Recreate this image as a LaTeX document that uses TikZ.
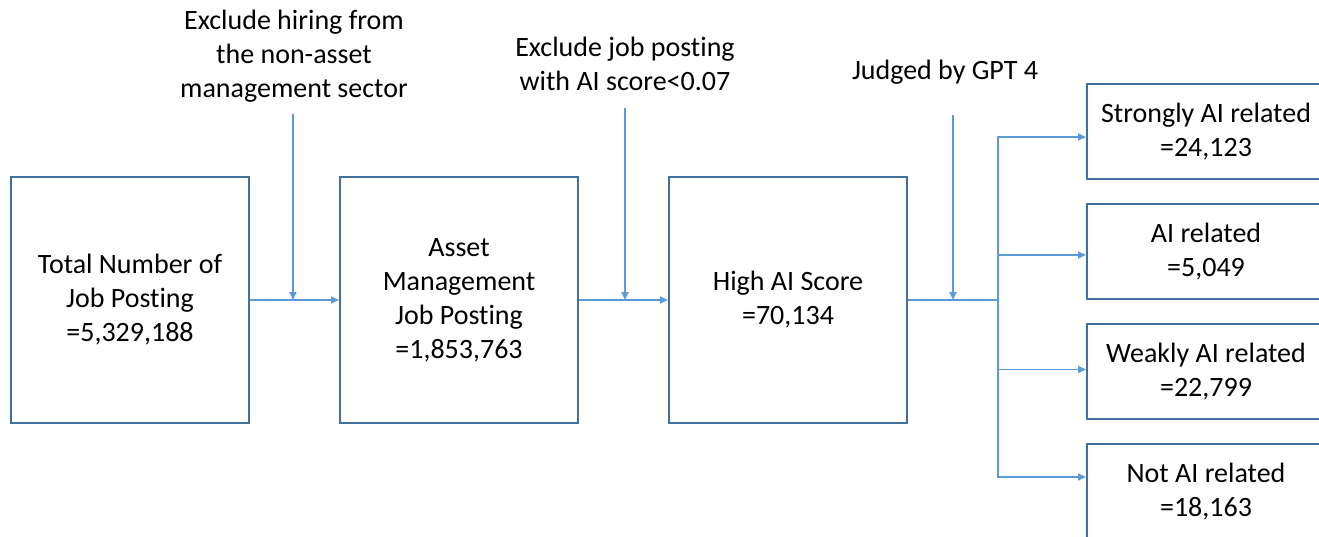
\documentclass[tikz,border=0pt]{standalone}
\usepackage{fontspec}
\setmainfont{Carlito}[Ligatures=NoCommon]
\usetikzlibrary{positioning, arrows.meta}
\definecolor{boxblue}{HTML}{41719C}
\definecolor{arrowblue}{HTML}{5B9BD5}

\begin{document}
\begin{tikzpicture}[
        x=1pt, y=-1pt,
        node distance=89pt and 89pt,
        every node/.style={font=\fontsize{28}{34}\selectfont, text=black},
        stage/.style={rectangle, draw=boxblue, line width=2pt, minimum width=238pt, minimum height=245pt, inner sep=0pt, align=center},
        result/.style={rectangle, draw=boxblue, line width=2pt, minimum width=238pt, minimum height=95pt, inner sep=0pt, align=center},
        note/.style={align=center, inner sep=0pt},
        arrow/.style={-{Triangle[length=8pt, width=7pt]}, line width=1.6pt, arrowblue},
        link/.style={line width=1.6pt, arrowblue}
    ]
        \clip (0,0) rectangle (1319,537);

        % Main stages
        \node[stage] (total) at (130,300) {Total Number of\\Job Posting\\=5,329,188};
        \node[stage, right=of total] (asset) {Asset\\Management\\Job Posting\\=1,853,763};
        \node[stage, right=of asset] (high) {High AI Score\\=70,134};

        % GPT 4 results
        \node[result] (strong) at (1206,131.5) {Strongly AI related\\=24,123};
        \node[result, below=23pt of strong] (airel) {AI related\\=5,049};
        \node[result, below=23pt of airel] (weak) {Weakly AI related\\=22,799};
        \node[result, below=23pt of weak] (notai) {Not AI related\\=18,163};

        % Filters
        \node[note] (hiring) at (294,56) {Exclude hiring from\\the non-asset\\management sector};
        \node[note] (score) at (625,64) {Exclude job posting\\with AI score<0.07};
        \node[note] (gpt) at (945,72) {Judged by GPT 4};

        \coordinate (hiringin) at (293,114);
        \coordinate (scorein) at (625,108);
        \coordinate (gptin) at (953,115);
        \coordinate (split) at (998,300);

        \draw[arrow] (total) -- (asset);
        \draw[arrow] (asset) -- (high);
        \draw[arrow] (hiringin) -- (hiringin |- total.east);
        \draw[arrow] (scorein) -- (scorein |- asset.east);

        \draw[link] (high.east) -- (split);
        \draw[arrow] (gptin) -- (gptin |- split);
        \draw[arrow] (split) |- ([yshift=-5.5pt]strong.west);
        \draw[arrow] (split) |- ([yshift=-3.5pt]airel.west);
        \draw[arrow] (split) |- ([yshift=2pt]weak.west);
        \draw[arrow] (split) |- ([yshift=14.5pt]notai.west);
    \end{tikzpicture}
\end{document}
